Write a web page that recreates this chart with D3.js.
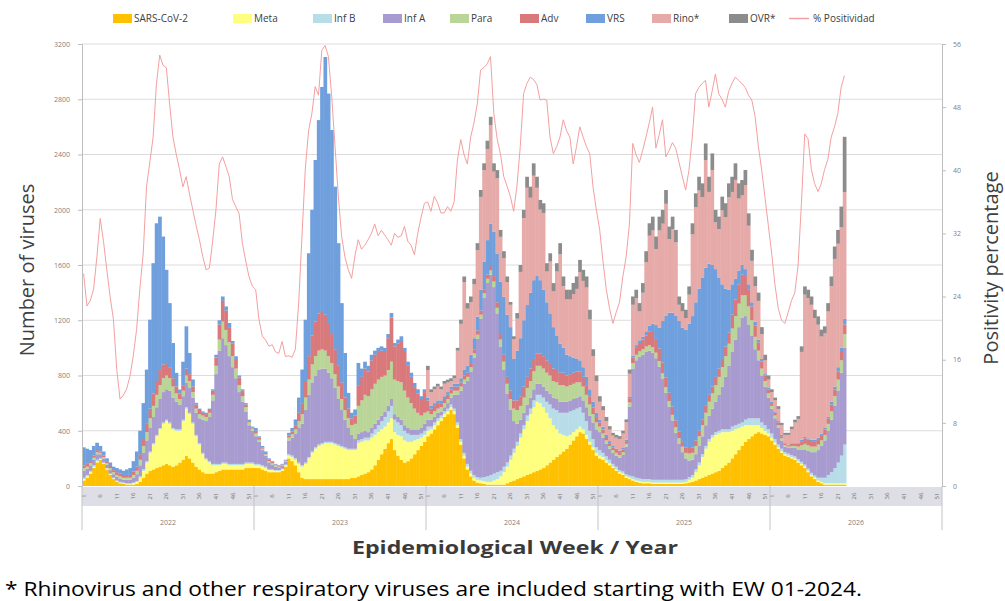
<!DOCTYPE html>
<html>
<head>
<meta charset="utf-8">
<script src="https://cdn.jsdelivr.net/npm/d3@7"></script>
<style>
  body { margin: 0; background: #fff; }
  text { font-family: "Open Sans", "Liberation Sans", sans-serif; }
</style>
</head>
<body>
<svg id="chart" width="1005" height="601"></svg>
<script>

//----------------------------------------------------------------------------------
// data: one value per epidemiological week, starting EW 01-2022

const years = ["2022", "2023", "2024", "2025", "2026"];
const weeksPerYear = 52;
const weekLabels = [1, 6, 11, 16, 21, 26, 31, 36, 41, 46, 51];

const sars = [
  40,60,90,130,170,190,160,120,80,50, 30,20,15,10,10,10,15,30,60,90, 110,120,130,140,150,160,150,140,150,170, 190,220,200,170,140,120,100,90,90,90, 100,110,120,120,120,120,120,120,120,130, 130,130,
  130,130,120,110,100,100,100,100,110,140, 200,180,150,100,60,50,50,50,50,50, 50,50,50,50,50,50,50,50,50,60, 60,70,80,90,100,120,150,190,230,270, 310,340,260,220,190,170,180,200,230,260, 290,320,
  360,380,410,440,470,500,520,550,520,420, 300,200,120,70,40,25,20,15,10,10, 10,10,10,10,20,30,40,50,60,70, 80,90,100,110,120,130,150,170,190,210, 230,250,270,300,330,360,390,380,340,300, 260,220,
  200,190,170,150,130,110,90,80,60,50, 40,30,25,20,20,20,15,15,15,15, 15,15,15,15,15,15,20,25,30,40, 50,60,70,80,90,100,110,130,150,170, 200,230,260,290,320,340,360,380,390,380, 370,360,
  330,300,270,240,220,210,200,190,170,150, 130,100,70,50,30,20,10,10,10,10, 10,10,10
];

const meta = [
  10,10,10,10,10,5,5,5,5,5, 5,5,5,5,5,10,15,30,50,80, 130,180,230,270,300,310,300,270,250,230, 280,340,320,280,220,180,130,100,80,60, 50,40,40,40,30,30,30,30,30,30, 30,30,
  20,20,20,20,15,15,10,10,10,10, 20,30,40,60,80,110,150,190,220,240, 250,260,260,260,250,240,230,220,210,200, 200,240,240,240,230,230,220,200,180,160, 150,150,130,150,170,160,140,120,100,80, 60,50,
  40,30,30,30,20,20,20,20,20,20, 20,20,20,20,20,20,20,20,20,20, 30,40,60,90,120,160,200,240,290,340, 390,430,470,500,480,440,380,320,250,200, 150,120,90,70,60,50,40,30,30,20, 20,20,
  20,20,15,15,10,10,10,10,10,10, 10,10,10,10,10,10,10,10,10,10, 10,10,10,10,10,10,10,20,30,60, 100,150,200,240,260,270,270,260,240,220, 200,180,160,140,120,100,80,60,50,40, 30,20,
  20,15,10,10,10,10,10,10,10,10, 10,10,10,10,10,10,10,10,10,10, 10,10,10
];

const infB = [
  10,10,10,10,10,5,5,5,5,5, 5,5,5,5,5,5,5,10,10,10, 10,10,10,10,10,10,10,10,10,10, 10,10,10,10,10,10,10,10,10,10, 10,10,10,10,10,10,10,10,10,10, 10,10,
  10,10,10,10,5,5,5,5,5,5, 10,10,10,10,10,10,10,10,10,10, 10,10,10,10,10,10,10,10,10,10, 10,20,20,20,20,30,40,50,60,70, 80,90,90,90,80,70,60,50,40,30, 30,30,
  30,20,20,20,20,20,20,20,20,20, 20,20,20,20,20,20,20,30,40,50, 50,50,40,40,30,30,30,30,30,30, 40,40,50,50,60,70,80,100,120,140, 150,160,170,170,160,150,140,120,100,80, 60,40,
  40,30,30,25,20,20,15,15,15,15, 20,20,20,20,20,20,20,20,20,20, 20,20,20,20,20,20,20,20,20,20, 20,20,20,20,20,20,20,20,20,20, 30,30,30,30,40,50,50,50,50,40, 40,30,
  30,25,20,20,15,15,15,15,15,15, 15,15,15,15,20,30,40,60,80,110, 150,200,280
];

const infA = [
  50,45,40,40,40,30,30,25,25,25, 25,25,20,25,25,35,50,80,120,150, 170,190,200,210,220,220,230,220,200,180, 170,180,180,180,160,180,240,270,320,460, 650,820,900,850,780,700,620,520,450,370, 270,230,
  200,160,110,80,50,35,25,20,20,20, 100,130,180,250,300,380,450,500,520,540, 540,530,500,460,400,330,260,200,150,100, 70,50,50,50,40,40,40,40,40,40, 40,50,40,40,40,40,40,40,40,40, 40,50,
  50,50,40,40,30,30,40,50,100,200, 350,500,600,720,850,1000,1150,1300,1400,1450, 1350,1150,900,700,500,330,200,130,100,90, 80,80,80,80,80,80,80,80,80,80, 80,80,80,80,80,80,80,90,100,110, 120,130,
  130,110,90,80,80,80,90,120,200,500, 780,850,880,900,920,930,920,880,820,730, 630,530,430,340,260,200,150,120,110,110, 120,130,150,170,190,220,260,310,380,460, 540,620,700,760,750,680,600,500,420,340, 280,230,
  180,150,120,60,40,40,50,60,70,90, 110,130,150,170,200,230,270,320,380,450, 520,600,700
];

const para = [
  20,15,15,15,15,10,10,10,15,15, 15,15,15,15,15,20,25,40,50,60, 70,80,90,100,100,100,90,80,60,40, 40,50,50,40,30,30,30,30,30,40, 60,80,120,110,100,80,70,50,40,30, 20,15,
  20,15,10,10,10,10,10,5,5,5, 20,25,30,50,70,90,110,130,140,140, 140,130,120,110,100,90,80,70,70,70, 110,200,230,260,260,280,290,290,280,260, 260,270,250,260,270,250,220,190,150,120, 90,80,
  60,40,40,30,30,30,30,30,30,30, 30,30,30,30,30,30,30,30,30,30, 40,40,50,60,70,80,90,100,100,110, 120,120,130,130,130,130,130,130,120,120, 120,120,110,110,110,110,100,100,90,80, 60,50,
  40,30,25,20,20,20,20,20,20,30, 40,40,40,40,40,40,40,40,40,40, 40,40,40,40,40,40,40,50,50,60, 70,80,90,100,110,120,130,140,150,160, 170,170,170,160,150,130,110,90,70,50, 40,30,
  20,20,20,15,10,10,15,15,20,30, 40,40,40,40,40,40,40,50,60,70, 80,90,100
];

const adv = [
  20,20,15,15,15,10,10,10,15,15, 20,20,20,20,20,25,30,40,50,60, 70,90,100,110,100,90,80,60,50,40, 40,50,50,40,30,30,20,20,20,30, 60,110,150,140,110,90,70,55,40,20, 10,10,
  20,15,10,10,10,10,5,5,5,5, 15,20,30,60,80,120,170,210,250,270, 270,260,240,210,180,150,120,90,70,50, 60,150,170,190,180,210,210,200,190,170, 230,320,240,270,300,280,230,190,156,140, 120,150,
  80,40,40,40,30,30,30,30,30,30, 30,30,30,30,30,30,30,30,30,40, 40,40,40,50,50,60,60,70,70,80, 80,90,90,90,90,90,90,90,90,90, 90,90,80,80,80,80,80,70,70,60, 50,40,
  30,30,25,20,20,20,20,20,20,30, 40,50,60,70,80,100,110,100,90,80, 70,60,60,50,50,40,40,40,40,40, 40,40,50,50,50,60,60,60,70,80, 100,120,140,150,140,120,100,80,60,50, 40,30,
  20,20,20,15,10,10,15,15,20,30, 40,40,40,40,40,40,40,40,50,50, 60,60,70
];

const vrs = [
  130,110,80,70,53,40,30,25,25,25, 30,30,30,40,50,75,110,170,260,393, 644,943,1142,1110,926,675,464,255,99,28, 170,306,153,51,12,10,10,10,10,10, 20,30,32,30,30,20,19,15,10,10, 10,5,
  20,10,10,10,10,5,5,5,5,5, 20,25,42,110,243,444,745,909,1170,1399, 1629,1866,1661,1477,1177,888,574,323,114,40, 44,161,60,50,40,40,30,30,31,30, 30,32,25,30,34,30,30,30,30,30, 20,20,
  20,20,20,20,20,20,20,20,20,20, 30,40,50,60,80,100,150,200,250,300, 320,350,380,420,450,460,300,360,420,480, 520,550,570,560,530,480,420,360,300,250, 210,180,150,130,110,90,80,70,60,50, 40,30,
  20,20,15,15,10,10,10,10,10,10, 15,20,20,20,30,40,60,100,150,300, 450,580,680,760,800,820,850,900,950,1000, 1030,1030,1000,950,880,780,660,540,420,310, 220,150,100,70,50,40,30,30,20,20, 10,10,
  10,10,10,10,5,5,5,5,5,10, 10,10,10,10,10,10,10,10,20,20, 30,30,40
];

// Rino* and OVR* are counted from EW 01-2024 (week index 104)
const rinoStart = 104;

const rino = [
  200,100,100,100,80,90,70,40,40,240, 394,637,414,382,390,483,673,661,660,713, 436,547,324,280,237,162,144,232,480,739, 849,687,756,639,511,557,223,375,259,463, 648,447,401,411,460,507,637,625,647,506, 330,230,
  130,118,100,83,75,80,86,105,127,168, 367,341,209,319,500,652,675,551,705,704, 808,533,605,529,117,119,86,210,592,689, 709,581,780,519,688,339,350,535,517,671, 669,716,521,505,608,424,300,257,280,180, 100,60,
  70,80,88,72,60,70,100,150,176,636, 1030,1016,977,881,818,702,686,764,837,924, 894,873,918
];

const ovr = [
  30,20,20,20,20,20,20,20,20,20, 30,40,40,40,40,50,50,50,60,60, 60,60,50,50,40,20,20,40,50,60, 80,80,90,80,70,70,60,60,60,60, 80,70,70,70,80,90,90,80,80,70, 50,40,
  40,30,30,25,20,20,20,20,20,30, 60,60,60,70,80,90,100,90,100,100, 100,90,90,90,60,60,60,60,80,100, 100,100,120,110,120,90,90,100,100,100, 110,120,110,110,110,90,80,70,60,50, 40,30,
  20,20,20,15,15,15,20,20,20,40, 60,60,60,60,60,50,50,60,70,90, 100,150,400
];

const positivity = [
  26.9,22.8,23.5,24.9,29.0,33.9,31.0,27.4,24.0,21.1, 14.8,11.0,11.5,12.3,13.9,16.5,19.8,25.0,29.4,37.9, 41.0,44.2,50.9,54.6,53.3,53.0,48.4,44.2,42.0,40.1, 37.9,39.2,37.0,35.0,33.0,31.2,29.1,27.4,27.6,31.0, 35.0,40.8,41.7,40.5,39.2,36.3,35.4,34.5,30.7,28.5, 26.5,25.3,
  24.9,21.1,19.0,18.5,17.7,17.9,17.0,16.8,18.3,16.4, 16.5,16.3,17.3,23.1,31.6,40.1,45.0,47.2,50.6,49.5, 55.2,55.8,54.4,49.3,43.0,36.7,31.6,29.0,27.4,26.3, 29.1,31.2,30.0,30.5,31.2,32.0,33.2,31.7,32.4,31.8, 31.2,30.5,32.0,31.5,31.7,32.9,31.0,30.5,29.3,32.0, 34.0,35.8,
  36.0,34.8,36.7,35.9,34.6,34.6,35.4,34.8,36.0,41.3, 43.9,42.0,40.8,44.2,46.0,48.4,52.7,53.0,53.5,54.4, 47.2,44.0,42.1,39.2,38.0,36.7,34.8,38.0,43.0,49.7, 51.0,51.8,51.5,50.9,48.9,49.0,48.9,44.2,42.1,43.0, 44.2,46.4,45.0,44.2,40.8,43.0,45.5,44.2,43.0,42.1, 37.9,35.0,
  32.5,28.5,24.9,22.5,20.6,22.0,23.3,26.5,29.0,33.2, 43.4,42.0,41.0,42.5,44.2,46.0,48.0,42.8,44.5,46.4, 41.7,42.5,43.5,42.8,41.0,39.2,37.5,40.0,44.2,49.7, 50.5,51.0,51.4,48.0,50.0,52.2,49.7,49.0,48.0,50.0, 51.0,51.8,51.4,51.0,50.5,49.5,48.9,46.8,43.0,40.0, 36.5,33.0,
  29.5,25.5,22.5,21.0,20.6,22.0,23.5,24.5,28.0,35.8, 44.6,44.0,40.1,38.3,37.3,38.3,40.1,41.4,44.2,45.5, 47.2,50.5,52.0
];

//----------------------------------------------------------------------------------
// series (bottom to top of the stack)

const series = [
  { key: "sars", label: "SARS-CoV-2", color: "#ffc000", values: sars, start: 0 },
  { key: "meta", label: "Meta", color: "#ffff7f", values: meta, start: 0 },
  { key: "infB", label: "Inf B", color: "#b7dde8", values: infB, start: 0 },
  { key: "infA", label: "Inf A", color: "#a89bd0", values: infA, start: 0 },
  { key: "para", label: "Para", color: "#b9d597", values: para, start: 0 },
  { key: "adv", label: "Adv", color: "#d9797b", values: adv, start: 0 },
  { key: "vrs", label: "VRS", color: "#6f9fdc", values: vrs, start: 0 },
  { key: "rino", label: "Rino*", color: "#e6aaa8", values: rino, start: rinoStart },
  { key: "ovr", label: "OVR*", color: "#8c8c8c", values: ovr, start: rinoStart }
];
const lineColor = "#f4a0a0";

let rows = positivity.map((p, i) => {
  let row = { week: i };
  series.forEach(s => {
    row[s.key] = i >= s.start ? (s.values[i - s.start] || 0) : 0;
  });
  return row;
});

//----------------------------------------------------------------------------------
// scales

let svg = d3.select("#chart");
const plotLeft = 82, plotRight = 942, plotTop = 44, plotBottom = 486;

let x = d3.scaleBand()
  .domain(d3.range(years.length * weeksPerYear))
  .range([plotLeft, plotRight]);
let bw = x.bandwidth();

let y = d3.scaleLinear().domain([0, 3200]).range([plotBottom, plotTop]);
let y2 = d3.scaleLinear().domain([0, 56]).range([plotBottom, plotTop]);

svg.append("rect").attr("width", 1005).attr("height", 601).attr("fill", "#fff");

// gridlines
svg.append("g")
  .selectAll("line")
  .data(d3.range(400, 3201, 400))
  .join("line")
  .attr("x1", plotLeft).attr("x2", plotRight)
  .attr("y1", d => y(d)).attr("y2", d => y(d))
  .attr("stroke", "#dcdcdc")
  .attr("stroke-width", 1);

//----------------------------------------------------------------------------------
// stacked bars

let stacked = d3.stack().keys(series.map(s => s.key))(rows);

svg.append("g")
  .selectAll("g")
  .data(stacked)
  .join("g")
  .attr("fill", (d, i) => series[i].color)
  .selectAll("rect")
  .data(d => d.filter(v => v[1] > v[0]))
  .join("rect")
  .attr("x", d => x(d.data.week))
  .attr("width", bw + 0.4)
  .attr("y", d => y(d[1]))
  .attr("height", d => y(d[0]) - y(d[1]));

// positivity line
let line = d3.line()
  .x((p, i) => x(i) + bw / 2)
  .y(p => y2(p));

svg.append("path")
  .datum(positivity)
  .attr("d", line)
  .attr("fill", "none")
  .attr("stroke", lineColor)
  .attr("stroke-width", 1);

//----------------------------------------------------------------------------------
// axes

let axisL = svg.append("g")
  .attr("transform", `translate(${plotLeft},0)`)
  .call(d3.axisLeft(y).tickValues(d3.range(0, 3201, 400)).tickFormat(d3.format("d")).tickSize(4).tickPadding(8));
let axisR = svg.append("g")
  .attr("transform", `translate(${plotRight},0)`)
  .call(d3.axisRight(y2).tickValues(d3.range(0, 57, 8)).tickFormat(d3.format("d")).tickSize(4).tickPadding(7));

[axisL, axisR].forEach(a => {
  a.select(".domain").attr("stroke", "#bdbdbd");
  a.selectAll(".tick line").attr("stroke", "#bdbdbd");
  a.selectAll(".tick text")
    .attr("fill", "#7f7f7f")
    .style("font-size", "7px");
});

// week label band
svg.append("rect")
  .attr("x", plotLeft).attr("y", plotBottom + 1)
  .attr("width", plotRight - plotLeft).attr("height", 19)
  .attr("fill", "#dedee6");

let weekTicks = [];
years.forEach((yr, k) => {
  weekLabels.forEach(w => weekTicks.push({ idx: k * weeksPerYear + w - 1, w: w }));
});

svg.append("g")
  .selectAll("text")
  .data(weekTicks)
  .join("text")
  .attr("transform", d => `translate(${x(d.idx) + bw / 2 + 2},${plotBottom + 10}) rotate(-90)`)
  .attr("text-anchor", "middle")
  .attr("fill", "#707070")
  .style("font-size", "6px")
  .text(d => d.w);

// year separators and labels
svg.append("g")
  .selectAll("line")
  .data(d3.range(years.length + 1))
  .join("line")
  .attr("x1", k => k < years.length ? x(k * weeksPerYear) : plotRight)
  .attr("x2", k => k < years.length ? x(k * weeksPerYear) : plotRight)
  .attr("y1", plotBottom)
  .attr("y2", plotBottom + 44)
  .attr("stroke", "#c4c4c4");

svg.append("g")
  .selectAll("text")
  .data(years)
  .join("text")
  .attr("x", (d, k) => x(k * weeksPerYear) + weeksPerYear * bw / 2)
  .attr("y", plotBottom + 39)
  .attr("text-anchor", "middle")
  .attr("fill", "#7f7f7f")
  .style("font-size", "7px")
  .text(d => d);

//----------------------------------------------------------------------------------
// titles

svg.append("text")
  .attr("x", 515).attr("y", 554)
  .attr("text-anchor", "middle")
  .attr("fill", "#3a3a3a")
  .attr("textLength", 326)
  .attr("lengthAdjust", "spacingAndGlyphs")
  .style("font-size", "17px")
  .style("font-weight", "bold")
  .text("Epidemiological Week / Year");

svg.append("text")
  .attr("transform", "translate(34,270) rotate(-90)")
  .attr("text-anchor", "middle")
  .attr("fill", "#404040")
  .style("font-size", "20px")
  .text("Number of viruses");

svg.append("text")
  .attr("transform", "translate(998,268) rotate(-90)")
  .attr("text-anchor", "middle")
  .attr("fill", "#404040")
  .style("font-size", "20px")
  .text("Positivity percentage");

svg.append("text")
  .attr("x", 5).attr("y", 596)
  .attr("fill", "#000")
  .attr("textLength", 857)
  .attr("lengthAdjust", "spacingAndGlyphs")
  .style("font-size", "20px")
  .text("* Rhinovirus and other respiratory viruses are included starting with EW 01-2024.");

//----------------------------------------------------------------------------------
// legend

const legendX = [113, 233, 313, 383, 450, 520, 586, 652, 729];

let legend = svg.append("g");
series.forEach((s, i) => {
  legend.append("rect")
    .attr("x", legendX[i]).attr("y", 14)
    .attr("width", 19).attr("height", 9)
    .attr("fill", s.color);
  legend.append("text")
    .attr("x", legendX[i] + 21).attr("y", 22)
    .attr("fill", "#404040")
    .style("font-size", "10px")
    .text(s.label);
});

legend.append("line")
  .attr("x1", 789).attr("x2", 809)
  .attr("y1", 18.5).attr("y2", 18.5)
  .attr("stroke", lineColor)
  .attr("stroke-width", 1.5);
legend.append("text")
  .attr("x", 813).attr("y", 22)
  .attr("fill", "#404040")
  .style("font-size", "10px")
  .text("% Positividad");

</script>
</body>
</html>
